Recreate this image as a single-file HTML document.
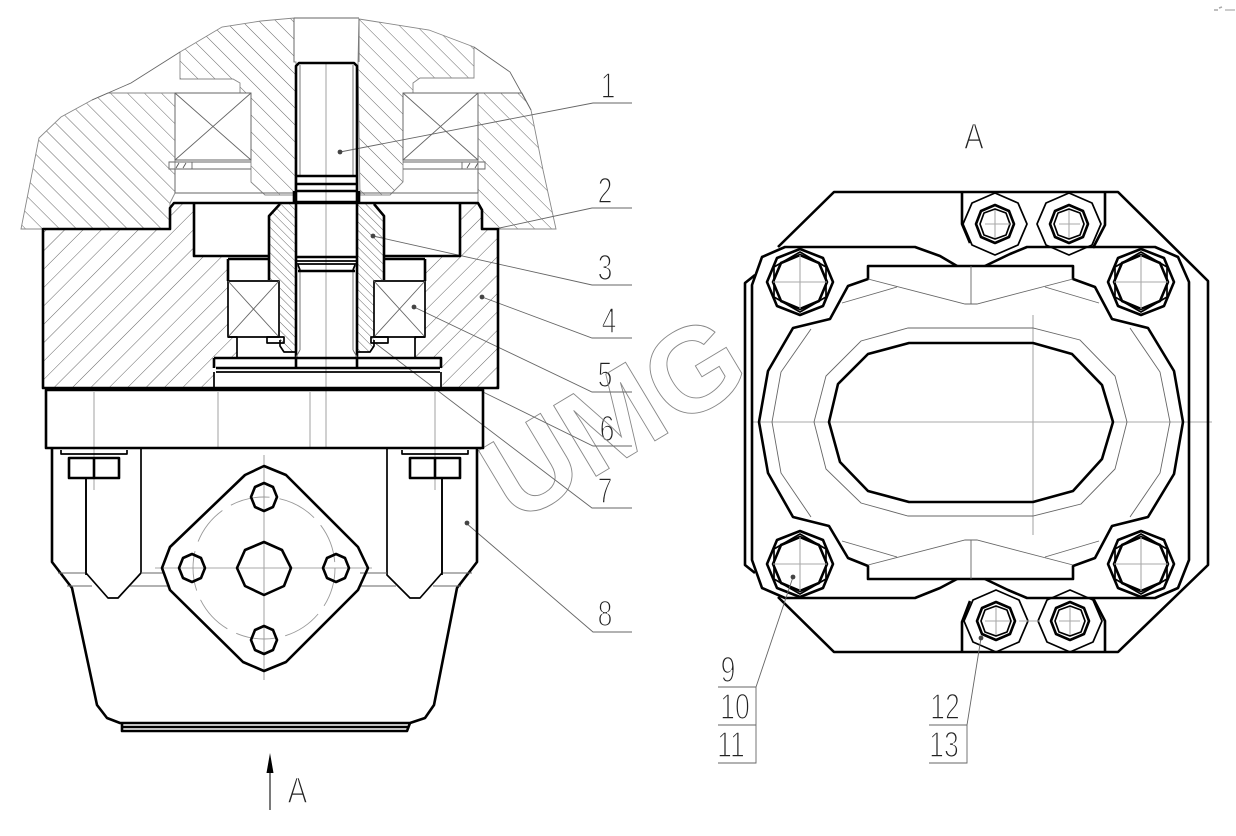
<!DOCTYPE html>
<html><head><meta charset="utf-8"><style>html,body{margin:0;padding:0;background:#fff}svg{display:block}
text{font-family:"Liberation Sans",sans-serif}
.t{font-size:36px;fill:#222;stroke:#fff;stroke-width:1.5;text-anchor:middle}
.b{fill:none;stroke:#000;stroke-width:2.6;stroke-linejoin:round}
.m{fill:none;stroke:#000;stroke-width:1.7;stroke-linejoin:round}
.n{fill:none;stroke:#666;stroke-width:.9}
.c{fill:none;stroke:#aaa;stroke-width:1.1}
.d{fill:#444}
</style></head><body>
<svg width="1236" height="836" viewBox="0 0 1236 836" xmlns="http://www.w3.org/2000/svg">
<defs>
<pattern id="h1" width="12" height="12" patternUnits="userSpaceOnUse" patternTransform="rotate(-45)"><line x1="0" y1="0" x2="0" y2="12" stroke="#666" stroke-width="1"/></pattern>
<pattern id="h2" width="13" height="13" patternUnits="userSpaceOnUse" patternTransform="rotate(45)"><line x1="0" y1="0" x2="0" y2="13" stroke="#666" stroke-width="1"/></pattern>
<pattern id="h3" width="6" height="6" patternUnits="userSpaceOnUse" patternTransform="rotate(-45)"><line x1="0" y1="0" x2="0" y2="6" stroke="#666" stroke-width="1"/></pattern>
<g id="bolt"><polygon class="b" points="0,-33 23,-24 33,0 23,24 0,33 -23,24 -33,0 -23,-24"/><polygon class="m" points="0,-30 26,-15 26,15 0,30 -26,15 -26,-15"/><polygon class="b" points="0,-27 19,-19 27,0 19,19 0,27 -19,19 -27,0 -19,-19"/></g>
<g id="sb"><polygon class="m" points="0,-31 23,-21 32,0 23,21 0,31 -23,21 -32,0 -23,-21"/><polygon class="b" points="0,-19 14,-13 19,0 14,13 0,19 -14,13 -19,0 -14,-13"/><polygon class="m" points="0,-15 11,-11 15,0 11,11 0,15 -11,11 -15,0 -11,-11"/></g>
<g id="hole"><polygon class="b" points="0,-14 9,-10 13,0 9,10 0,14 -9,10 -13,0 -9,-10"/></g>
<g id="cross"><path class="c" d="M-27,0H27M0,-27V27"/></g>
</defs>

<!-- labels under lines -->
<g>
<text class="t" transform="translate(608,98) scale(.74,1)">1</text>
<text class="t" transform="translate(605,203) scale(.74,1)">2</text>
<text class="t" transform="translate(605,280) scale(.74,1)">3</text>
<text class="t" transform="translate(609,333) scale(.74,1)">4</text>
<text class="t" transform="translate(605,387) scale(.74,1)">5</text>
<text class="t" transform="translate(607,441) scale(.74,1)">6</text>
<text class="t" transform="translate(605,503) scale(.74,1)">7</text>
<text class="t" transform="translate(605,626) scale(.74,1)">8</text>
<text class="t" transform="translate(297.5,803) scale(.8,1)" style="font-size:37px">A</text>
<text class="t" transform="translate(974,149) scale(.8,1)" style="font-size:37px">A</text>
<text class="t" transform="translate(728,682) scale(.74,1)">9</text>
<text class="t" transform="translate(735,719) scale(.74,1)">10</text>
<text class="t" transform="translate(731,757) scale(.74,1)">11</text>
<text class="t" transform="translate(945,719) scale(.74,1)">12</text>
<text class="t" transform="translate(944,757) scale(.74,1)">13</text>
</g>

<!-- watermark -->
<text transform="translate(515,525) rotate(-31)" style="font-family:'Liberation Sans',sans-serif;font-weight:bold;font-size:120px;fill:none;stroke:#888;stroke-width:.9">UMG</text>

<!-- upper hatched -->
<g stroke="#888" stroke-width=".9">
<polygon fill="url(#h1)" points="21,229 39,138 61,117 92,100 108,93 175,93 175,193 170,203 170,229"/>
<polygon fill="url(#h1)" points="180,52 222,27 261,21 294,18 294,62 296,62 295,195 265,195 251,182 251,93 240,93 240,83 233,79 180,79"/>
<polygon fill="url(#h1)" points="359,19 429,30 474,47 474,78 420,78 413,83 413,93 403,93 403,182 390,195 360,195 358,62"/>
<polygon fill="url(#h1)" points="478,93 522,93 531,110 543,170 556,229 498,229 482,229 482,210 478,203 478,193"/>
</g>
<path class="n" d="M180,52L131,83L92,100M474,47L510,72L531,110M522,93L413,93M175,193H295M360,193H478M294,18H359M294,18V62M359,19V62"/>
<!-- upper bearings -->
<path class="n" d="M175,93H251V160H175ZM175,93L251,160M251,93L175,160M403,93H478V160H403ZM403,93L478,160M478,93L403,160"/>
<path class="n" d="M169,162H192V169H169ZM192,162H251M192,169H251M462,162H485V169H462ZM403,162H462M403,169H462M175,169V193M478,169V193"/>
<path d="M179,163L176,168M186,163L183,168M470,163L467,168M478,163L475,168" stroke="#555" stroke-width=".9"/>

<!-- lower hatched -->
<polygon fill="url(#h2)" points="43,229 170,229 170,208 174,203 194,203 194,256 226,256 228,260 228,337 237,337 237,358 214,358 214,380 210,388 43,388"/>
<polygon fill="url(#h2)" points="460,203 478,203 482,210 482,229 498,229 498,388 443,388 441,380 441,358 415,358 415,337 425,337 425,260 428,256 460,256"/>
<polygon fill="url(#h3)" points="280,204 296,204 296,352 284,352 280,346 280,280 269,280 269,216"/>
<polygon fill="url(#h3)" points="357,204 374,204 384,216 384,280 374,280 374,346 370,352 357,352"/>

<!-- leaders -->
<path class="n" d="M340,152L593,103H632M495,229L592,208H632M373,236L592,285H632M482,297L592,338H632M414,307L592,392H632M483,392L593,446H632M375,343L592,508H632M466,523L593,632H632"/>
<circle class="d" cx="340" cy="152" r="2.4"/><circle class="d" cx="373" cy="236" r="2.4"/><circle class="d" cx="482" cy="297" r="2.4"/><circle class="d" cx="414" cy="307" r="2.4"/><circle class="d" cx="467" cy="523" r="2.4"/>

<!-- centre lines -->
<path class="c" d="M326,62V400M94,392V490M218,392V448M310,392V448M326,400V448M435,392V490M264,455V680M155,568H372"/>

<!-- lower section bold -->
<path class="b" d="M43,229H170V208L174,203H478L482,210V229H498V388H43ZM46,390H483V448H46Z"/>
<path class="b" d="M194,203V256H269M460,203V256H384M228,259H269M425,259H384M228,259V281M425,259V281"/>
<path class="m" d="M228,281H279V337H228ZM374,281H425V337H374Z"/>
<path class="n" d="M228,281L279,337M279,281L228,337M374,281L425,337M425,281L374,337"/>
<path class="b" d="M269,256V216L280,204M384,256V216L374,204M269,280V256M384,280V256"/>
<path class="m" d="M228,337H237V358M425,337H415V358M280,340V346L284,352H296M374,340V346L370,352H357M267,337H284V343H267ZM371,337H388V343H371Z"/>
<path class="b" d="M214,358H441V368M214,358V368M216,368H440"/>
<path class="m" d="M216,372H440M214,372V388M441,372V388L443,388M214,388H441"/>
<!-- shaft -->
<path class="b" d="M296,202V368M357,202V368M296,202V66L299,63H354L357,66V202"/>
<path class="n" d="M300,65V176M353,65V176M300,272V350M353,272V350M300,350L296,357M353,350L357,357"/>
<path class="b" d="M296,176H357M296,184H357M295,191H358M294,191V202M359,191V202M294,202H360M296,257H357M298,271H355"/>
<path class="m" d="M296,261H357M296,264H357M298,265L300,270M355,265L353,270"/>

<!-- lower body -->
<path class="b" d="M52,448V562L72,588L97,705L107,718L120,723H410L425,718L434,705L457,588L477,562V448"/>
<path class="b" d="M122,723V731H407L410,723M122,727H408"/>
<path class="m" d="M86,478V573L108,598H118L141,573V448M387,448V575L410,598H420L442,573V478"/>
<path class="n" d="M58,573H86M141,573H165M67,586H92M130,586H170M360,573H387M442,573H472M360,586H396M433,586H461"/>
<!-- nuts -->
<path class="m" d="M61,450V454H127V450M402,450V454H468V450"/>
<path class="b" d="M69,458H119V478H69ZM94,458V478M410,458H460V478H410ZM435,458V478"/>
<path class="m" d="M86,478V575M442,478V575"/>
<!-- diamond -->
<polygon class="b" points="264,466 245,475 170,547 162,568 170,590 243,662 264,671 286,662 358,590 368,568 358,547 286,475"/>
<circle cx="264" cy="568" r="71" fill="none" stroke="#999" stroke-width=".9" stroke-dasharray="40 10"/>
<use href="#hole" x="264" y="497"/><use href="#hole" x="264" y="640"/><use href="#hole" x="192" y="568"/><use href="#hole" x="336" y="568"/>
<polygon class="b" points="264,542 282,550 291,568 284,586 264,595 245,586 237,568 245,550"/>
<!-- arrow -->
<path d="M270,810V770" stroke="#222" stroke-width="1.2"/><polygon points="270,753 266.5,773 273.5,773" fill="#000"/>

<!-- RIGHT VIEW -->
<path class="c" d="M752,422H1212M1033,315V535"/>
<path class="b" d="M778,247L834,192H1118L1208,281V565L1118,652H834L778,597"/>
<path class="b" d="M755,275L745,283V565L755,573"/>
<path class="b" d="M962,192V224L970,243M1105,192V225L1093,248M962,652V622L970,601M1105,652V621L1093,598"/>
<path class="b" d="M868,266H1073V279L1095,287L1112,319L1148,328L1174,371L1183,422L1174,474L1148,517L1112,526L1095,558L1073,566V579H868V566L848,558L829,526L793,517L768,473L759,422L768,371L793,328L830,319L848,286L868,279Z"/>
<path class="b" d="M957,266L940,256L915,247H785L762,257L752,285V560L762,588L785,598H915L940,588L957,579M985,266L1010,254L1027,247H1155L1178,257L1189,282V560L1178,588L1155,598H1027L1008,590L985,579"/>
<polygon class="b" points="909,343 1033,343 1072,354 1102,385 1113,422 1102,459 1073,491 1033,502 909,502 868,491 840,462 829,422 838,384 868,354"/>
<polygon class="n" points="908,328 1033,328 1080,340 1115,376 1127,422 1115,469 1081,504 1033,516 908,516 861,503 826,469 814,422 826,376 861,341"/>
<path class="n" d="M811,329L781,372L772,422L781,473L811,517M1130,328L1160,372L1170,422L1160,473L1130,517"/>
<path class="n" d="M842,303L897,287M868,279L965,304H977L1073,279M1045,287L1099,303M971,266V304M842,541L897,557M868,565L965,540H977L1073,565M1045,557L1099,541M971,579V540"/>
<g>
<g transform="translate(800,282)"><use href="#bolt"/><use href="#cross"/></g>
<g transform="translate(1141,282)"><use href="#bolt"/><use href="#cross"/></g>
<g transform="translate(800,564)"><use href="#bolt"/><use href="#cross"/></g>
<g transform="translate(1141,564)"><use href="#bolt"/><use href="#cross"/></g>
<g transform="translate(995,224)"><use href="#sb"/></g>
<g transform="translate(1069,224)"><use href="#sb"/></g>
<g transform="translate(996,621)"><use href="#sb"/></g>
<g transform="translate(1070,621)"><use href="#sb"/></g>
</g>
<path class="c" d="M985,224H1010M1059,224H1080M985,621H1010M1019,621H1040M1059,621H1080M995,210V238M1069,210V238M996,607V635M1070,607V635"/>
<!-- callouts -->
<path class="n" d="M793,577L756,687H718M756,687V763H718M718,725H756M981,638L967,725H929M967,725V763H929"/>
<circle class="d" cx="793" cy="577" r="2.4"/><circle class="d" cx="981" cy="638" r="2.4"/>
<path d="M1214,10L1218,10M1219,8L1222,7" stroke="#aaa" stroke-width="1.5"/><path d="M1225,10H1235" stroke="#ccc" stroke-width="2"/>
</svg>
</body></html>
